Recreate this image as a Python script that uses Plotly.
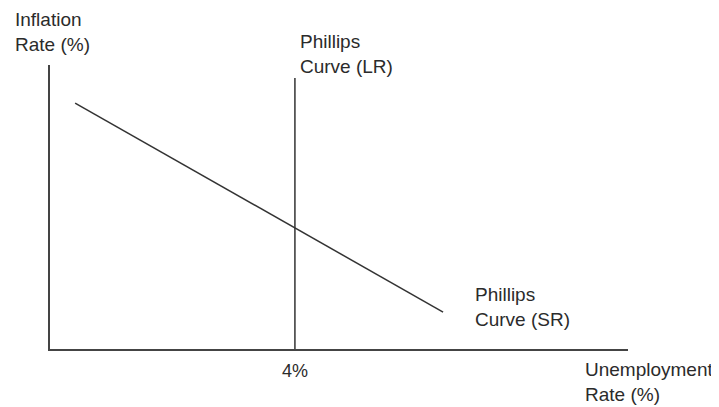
import plotly.graph_objects as go

# Data (arbitrary economic units)
sr_unemployment = [0.41, 6.42]
sr_inflation = [8.66, 1.30]
lr_unemployment = [4.0, 4.0]
lr_inflation = [0.0, 9.54]
x_tick_vals = [4.0]
x_tick_text = ["4%"]

FONT = "Liberation Sans, Arial, Helvetica, sans-serif"
LINE = "#333333"
TXT = "#2b2b2b"

fig = go.Figure()
fig.add_trace(go.Scatter(x=sr_unemployment, y=sr_inflation, mode="lines",
                         line=dict(color=LINE, width=1.5), hoverinfo="skip",
                         name="Phillips Curve (SR)"))
fig.add_trace(go.Scatter(x=lr_unemployment, y=lr_inflation, mode="lines",
                         line=dict(color=LINE, width=1.5), hoverinfo="skip",
                         name="Phillips Curve (LR)"))

# page body has an 8px default margin, so the figure is sized to fit the window
fig.update_layout(
    width=711, height=399,
    margin=dict(l=42, r=91, t=57, b=58),
    paper_bgcolor="white", plot_bgcolor="white",
    showlegend=False,
    font=dict(family=FONT, size=19, color=TXT),
    xaxis=dict(range=[0, 9.44], showgrid=False, zeroline=False,
               showline=True, linecolor="#444444", linewidth=2,
               tickvals=x_tick_vals, ticktext=x_tick_text, ticks="",
               ticklabelstandoff=4, tickfont=dict(size=18, color=TXT),
               fixedrange=True),
    yaxis=dict(range=[0, 10], showgrid=False, zeroline=False,
               showline=True, linecolor="#444444", linewidth=2,
               showticklabels=False, ticks="", fixedrange=True),
)

ann = dict(xref="paper", yref="paper", showarrow=False,
           font=dict(family=FONT, size=19, color=TXT), align="left")
fig.add_annotation(text="Inflation<br>Rate (%)", x=0.0043, y=1.116,
                   xanchor="center", yanchor="middle", **ann)
fig.add_annotation(text="Phillips<br>Curve (LR)", x=0.429, y=1.039,
                   xanchor="left", yanchor="middle", **ann)
fig.add_annotation(text="Phillips<br>Curve (SR)", x=0.732, y=0.148,
                   xanchor="left", yanchor="middle", **ann)
fig.add_annotation(text="Unemployment<br>Rate (%)", x=0.922, y=-0.116,
                   xanchor="left", yanchor="middle", **ann)

fig.write_html("out.html")
